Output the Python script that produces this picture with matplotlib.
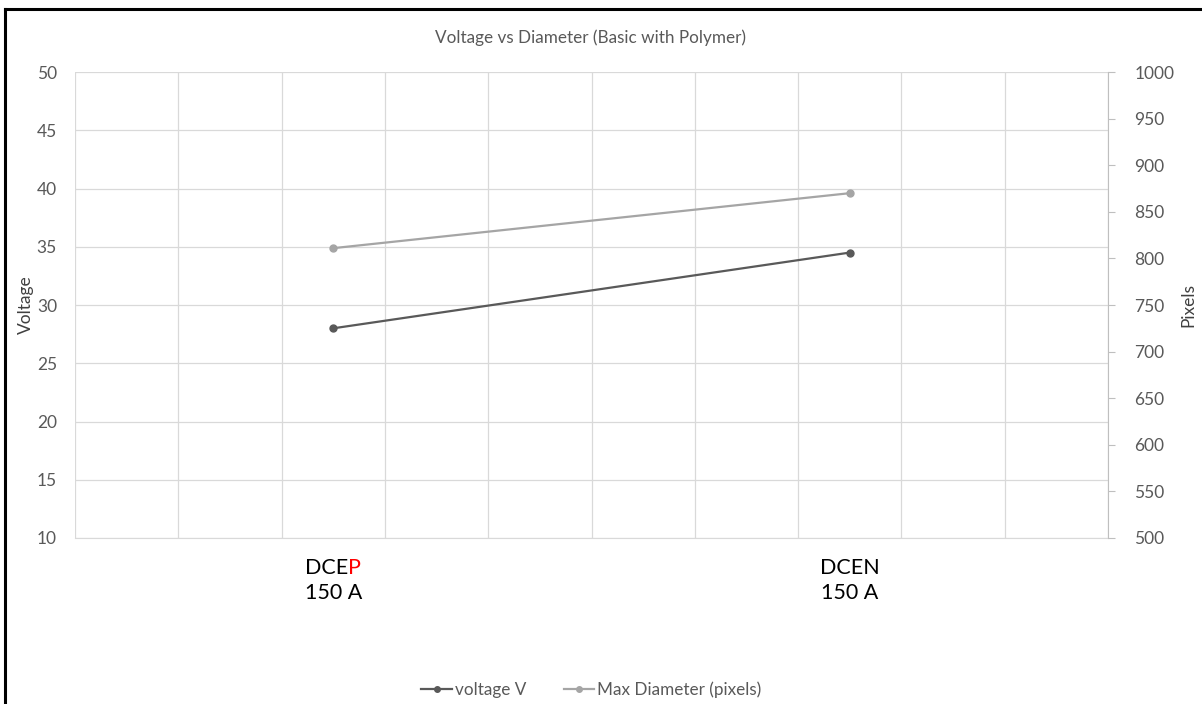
import matplotlib.pyplot as plt
from matplotlib.lines import Line2D

plt.rcParams['font.family'] = ['Lato', 'DejaVu Sans']

# 数据
categories = ['DCEP', 'DCEN']
currents = ['150 A', '150 A']
voltage = [28, 34.5]
diameter = [811, 870]
x_pos = [2.5, 7.5]

grid_c = '#d9d9d9'
tick_c = '#595959'
volt_c = '#595959'
diam_c = '#a5a5a5'

fig = plt.figure(figsize=(12.02, 7.04), dpi=100)
ax = fig.add_axes([0.0624, 0.2358, 0.8594, 0.6619])
ax2 = ax.twinx()

# 左轴 电压
ax.plot(x_pos, voltage, color=volt_c, lw=1.6, marker='o', ms=5, zorder=3)
ax.set_xlim(0, 10)
ax.set_ylim(10, 50)
ax.set_yticks(range(10, 51, 5))
ax.set_xticks(range(0, 11))
ax.set_xticklabels([])
ax.grid(True, color=grid_c, lw=0.9)
ax.tick_params(axis='x', length=0)
ax.tick_params(axis='y', length=0, labelsize=12.5, colors=tick_c, pad=13)
for s in ['top', 'left', 'right']:
    ax.spines[s].set_visible(False)
ax.spines['bottom'].set_color(grid_c)
ax.set_ylabel('Voltage', fontsize=12.5, color='#404040', labelpad=2)

# 右轴 直径
ax2.plot(x_pos, diameter, color=diam_c, lw=1.6, marker='o', ms=5, zorder=3)
ax2.set_ylim(500, 1000)
ax2.set_yticks(range(500, 1001, 50))
ax2.tick_params(axis='y', length=5, labelsize=12.5, colors=tick_c, pad=14)
ax2.tick_params(axis='y', color='#bfbfbf')
for s in ['top', 'left', 'bottom']:
    ax2.spines[s].set_visible(False)
ax2.spines['right'].set_color('#bfbfbf')
ax2.set_ylabel('Pixels', fontsize=12.5, color='#404040', labelpad=4, rotation=90)

# 类别标签, DCEP 的 P 为红色
fig.canvas.draw()
r = fig.canvas.get_renderer()
for xp, cat, cur in zip(x_pos, categories, currents):
    px = ax.transData.transform((xp, 10))[0]
    if cat == 'DCEP':
        t1 = fig.text(0, 0, 'DCE', fontsize=15.5)
        t2 = fig.text(0, 0, 'P', fontsize=15.5, color='red')
        w1 = t1.get_window_extent(r).width
        w2 = t2.get_window_extent(r).width
        left = px - (w1 + w2) / 2
        t1.set_position((left / fig.bbox.width, 1 - 568 / 704))
        t1.set_va('center')
        t2.set_position(((left + w1) / fig.bbox.width, 1 - 568 / 704))
        t2.set_va('center')
    else:
        fig.text(px / fig.bbox.width, 1 - 568 / 704, cat, fontsize=15.5,
                 ha='center', va='center')
    fig.text(px / fig.bbox.width, 1 - 593 / 704, cur, fontsize=15.5,
             ha='center', va='center')

fig.text(0.491, 1 - 38 / 704, 'Voltage vs Diameter (Basic with Polymer)',
         fontsize=12.3, color='#595959', ha='center', va='center')

handles = [Line2D([], [], color=volt_c, lw=1.6, marker='o', ms=4),
           Line2D([], [], color=diam_c, lw=1.6, marker='o', ms=4)]
fig.legend(handles, ['voltage V', 'Max Diameter (pixels)'], loc='center',
           bbox_to_anchor=(0.492, 1 - 690 / 704), ncol=2, frameon=False,
           fontsize=12.3, labelcolor='#595959', handlelength=1.8,
           handletextpad=0.15, columnspacing=2.2)

# 外框
fig.add_artist(Line2D([5 / 1202, 5 / 1202], [0, 1 - 9 / 704], color='black',
                      lw=2.2, transform=fig.transFigure))
fig.add_artist(Line2D([5 / 1202, 1], [1 - 9 / 704, 1 - 9 / 704], color='black',
                      lw=2.2, transform=fig.transFigure))

fig.savefig('out.png', dpi=100)
